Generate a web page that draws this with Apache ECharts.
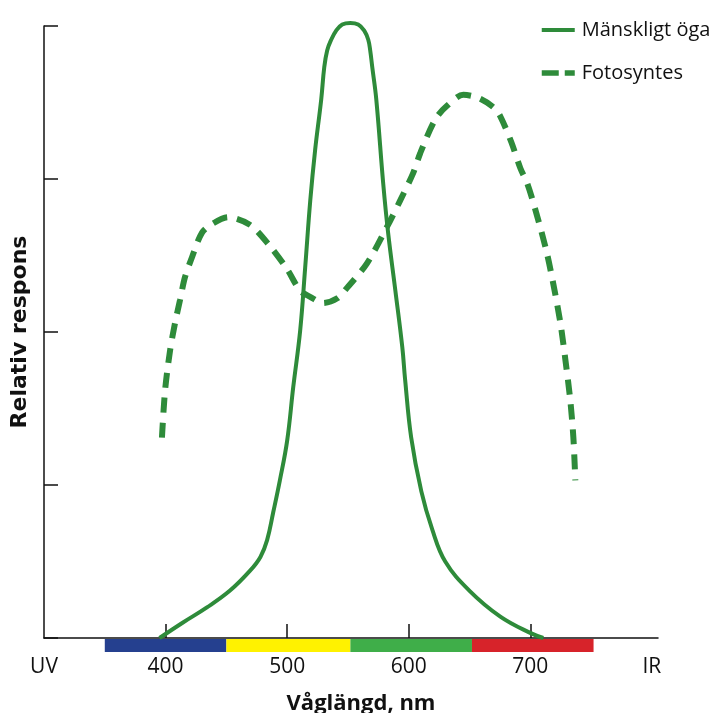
<!DOCTYPE html>
<html>
<head>
<meta charset="utf-8">
<script src="https://cdn.jsdelivr.net/npm/echarts@6/dist/echarts.min.js"></script>
<style>html,body{margin:0;padding:0;background:#fff}#c{width:714px;height:713px}</style>
</head>
<body>
<div id="c"></div>
<script>
// Human eye response (wavelength nm, relative response)
const eyeWl  = [395,414,434,453,469.5,478,483.5,488.5,494,500,505,510.7,514.8,519,523,528,530.5,532.9,536.2,540.3,545.3,551.9,558.4,563.4,566.7,568.3,570,573.3,579,583,589,594.7,597,602,610.3,619.3,630,649.8,675.3,700.8,710.7];
const eyeVal = [0,0.10,0.20,0.31,0.44,0.53,0.64,0.82,1.03,1.29,1.64,2.01,2.42,2.86,3.19,3.52,3.73,3.84,3.91,3.97,4.01,4.02,4.01,3.97,3.91,3.84,3.73,3.52,2.97,2.65,2.27,1.90,1.69,1.31,0.96,0.71,0.50,0.31,0.14,0.03,0];
// Photosynthesis response
const photoWl  = [397,399.6,403.7,407.8,411.9,416,421.8,430,439.1,451.4,469.5,486,500,510.7,518.9,529.6,541.2,549.4,565.8,582.3,593,603.7,609.5,621.8,631.7,644.9,657.2,669.5,675.3,684.4,691.8,697.5,704.1,713.2,719,724.7,728.8,732.9,735.4,737];
const photoVal = [1.31,1.62,1.88,2.06,2.21,2.36,2.49,2.65,2.71,2.75,2.70,2.56,2.41,2.27,2.23,2.19,2.22,2.29,2.45,2.69,2.86,3.04,3.17,3.39,3.48,3.55,3.53,3.47,3.41,3.24,3.07,2.97,2.80,2.53,2.31,2.06,1.82,1.55,1.31,1.03];
// Spectrum colour bands [start nm, end nm]
const bandStart = [350,450,552,652];
const bandEnd   = [450,552,652,752];
const bandColor = ['#25408f','#fff200','#3fae49','#d7232a'];
// Tick labels
const tickValues = [400,500,600,700];
const labelValues = [300,400,500,600,700,800];
const labelText = {300:'UV',400:'400',500:'500',600:'600',700:'700',800:'IR'};
const seriesNames = ['Mänskligt öga','Fotosyntes'];

const green = '#2e8b3a';
const font = '"Open Sans", Lato, sans-serif';
const chart = echarts.init(document.getElementById('c'));
const zip = (a,b)=>a.map((x,i)=>[x,b[i]]);

chart.setOption({
  animation:false,
  grid:[
    {left:44, right:56, top:26, bottom:75, containLabel:false, outerBoundsMode:'none'},
    {left:44, right:56, top:639, height:13, containLabel:false, outerBoundsMode:'none'}
  ],
  xAxis:[
    {type:'value', gridIndex:0, min:300, max:805, interval:100,
     axisLine:{show:true, lineStyle:{color:'#111', width:1.5}},
     axisTick:{show:true, inside:true, length:14, lineStyle:{color:'#111', width:1.5}, customValues:tickValues},
     axisLabel:{show:true, margin:19, fontSize:21, color:'#111', fontFamily:font,
       customValues:labelValues, formatter:v=>labelText[v]||''},
     splitLine:{show:false},
     name:'Våglängd, nm', nameLocation:'middle', nameGap:55,
     nameTextStyle:{fontSize:22, fontWeight:'bold', color:'#111', fontFamily:font, padding:[0,0,0,20]}
    },
    {type:'value', gridIndex:1, min:300, max:805, show:false}
  ],
  yAxis:[
    {type:'value', gridIndex:0, min:0, max:4, interval:1,
     axisLine:{show:true, lineStyle:{color:'#111', width:1.5}},
     axisTick:{show:true, inside:true, length:14, lineStyle:{color:'#111', width:1.5}},
     axisLabel:{show:false}, splitLine:{show:false},
     name:'Relativ respons', nameLocation:'middle', nameGap:13, nameRotate:90,
     nameTextStyle:{fontSize:22, fontWeight:'bold', color:'#111', fontFamily:'"DejaVu Sans", sans-serif'}
    },
    {type:'value', gridIndex:1, min:0, max:1, show:false}
  ],
  legend:{
    orient:'vertical', left:534, top:15, itemWidth:33, itemHeight:14, itemGap:23,
    itemStyle:{opacity:0},
    textStyle:{fontSize:20, color:'#111', fontFamily:font, padding:[0,0,0,2]},
    data:[{name:seriesNames[0], lineStyle:{width:4}},{name:seriesNames[1], lineStyle:{type:[17,6], width:5.5}}]
  },
  series:[
    {name:seriesNames[0], type:'line', xAxisIndex:0, yAxisIndex:0, data:zip(eyeWl,eyeVal),
     smooth:0.4, symbol:'none', clip:false,
     lineStyle:{color:green, width:4}, itemStyle:{color:green}},
    {name:seriesNames[1], type:'line', xAxisIndex:0, yAxisIndex:0, data:zip(photoWl,photoVal),
     smooth:0.3, symbol:'none', clip:false,
     lineStyle:{color:green, width:6, type:[15,10]}, itemStyle:{color:green}},
    {type:'custom', xAxisIndex:1, yAxisIndex:1, silent:true,
     data:bandStart.map((s,i)=>[s,bandEnd[i],i]),
     renderItem:(params,api)=>{
       const p0 = api.coord([api.value(0),1]);
       const p1 = api.coord([api.value(1),0]);
       return {type:'rect', shape:{x:p0[0], y:p0[1], width:p1[0]-p0[0], height:p1[1]-p0[1]},
               style:{fill:bandColor[api.value(2)]}};
     }}
  ]
});
</script>
</body>
</html>
